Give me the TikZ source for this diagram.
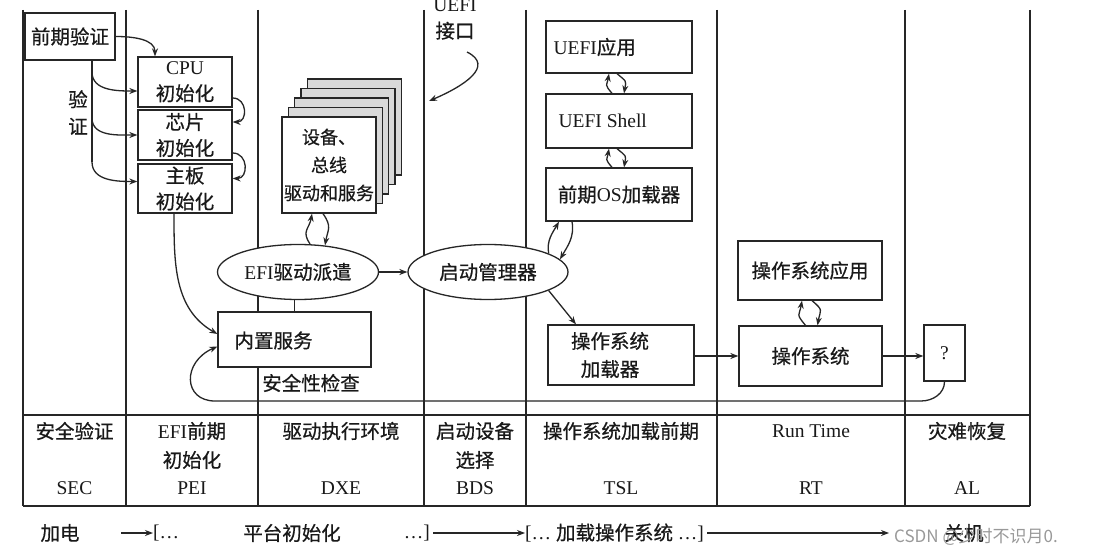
\documentclass[tikz,border=0pt]{standalone}
\usepackage{fontspec}
\setmainfont{Liberation Serif}
\newfontfamily\cjk{Noto Sans CJK SC}[FakeBold=0.6]
\newfontfamily\wmfont{Noto Sans CJK SC}
\newcommand\zh[1]{{\cjk #1}}
\usetikzlibrary{arrows.meta,shapes.geometric}
\begin{document}
\begin{tikzpicture}[x=1pt,y=1pt,
  every node/.style={inner sep=0pt, font=\fontsize{19.5}{26}\selectfont, text=black!90},
  ln/.style={line width=1.3pt, draw=black!85},
  box/.style={ln, rectangle, align=center, fill=white},
  ell/.style={ln, ellipse, align=center, fill=white},
  arr/.style={ln, -{Stealth[length=8pt,width=6pt]}},
  loopy/.style={arr, looseness=1.6},
  mark3/.style={align=center, font=\fontsize{18}{28}\selectfont}
]
\useasboundingbox (0,0) rectangle (1100,-556);
\clip (0,0) rectangle (1100,-556);
\fill[white] (0,0) rectangle (1100,-556);

% grid
\foreach \x in {23,126,258,424,526,717,905,1030} \draw[ln] (\x,-10) -- (\x,-506);
\draw[ln] (23,-415) -- (1030,-415);
\draw[ln] (23,-506) -- (1030,-506);

% SEC / PEI
\node[box, minimum width=90pt, minimum height=47pt] (pre) at (70,-36.5) {\zh{前期验证}};
\node[box, minimum width=94pt, minimum height=50pt] (cpu) at (185,-82) {CPU\\\zh{初始化}};
\node[box, minimum width=94pt, minimum height=50pt] (chip) at (185,-135) {\zh{芯片}\\\zh{初始化}};
\node[box, minimum width=94pt, minimum height=49pt] (board) at (185,-188.5) {\zh{主板}\\\zh{初始化}};
\node[align=center, font=\fontsize{19.5}{27}\selectfont] (ver) at (78,-112.5) {\zh{验}\\\zh{证}};

\draw[arr] (pre.east) to[out=0,in=90] ([xshift=-30pt]cpu.north);
\coordinate (vtop) at ([xshift=22pt]pre.south);
\coordinate (va) at (92,-72);
\coordinate (vb) at (92,-118);
\coordinate (vc) at (92,-162);
\draw[ln] (vtop) -- (vc);
\draw[arr] (va) to[out=-90,in=180] ([yshift=-9pt]cpu.west);
\draw[arr] (vb) to[out=-90,in=180] (chip.west);
\draw[arr] (vc) to[out=-90,in=180] ([yshift=7pt]board.west);
\draw[loopy] ([yshift=-16pt]cpu.east) to[out=0,in=0] ([yshift=13pt]chip.east);
\draw[loopy] ([yshift=-18pt]chip.east) to[out=0,in=0] ([yshift=10pt]board.east);

% DXE
\foreach \k in {4,3,2,1} \draw[ln, fill=black!15] (282+6.3*\k, -117+9.5*\k) rectangle ++(94,-96);
\node[box, mark3, minimum width=94pt, minimum height=96pt] (dev) at (329,-165) {\zh{设备、}\\\zh{总线}\\\zh{驱动和服务}};
\node[ell, minimum width=161pt, minimum height=55pt] (dxe) at (298,-272) {EFI\zh{驱动派遣}};
\node[ell, minimum width=160pt, minimum height=55pt] (bm) at (488,-272) {\zh{启动管理器}};
\node[box, minimum width=153pt, minimum height=55pt] (bis) at (294.5,-339.5) {};
\node[anchor=west] (bist) at ([xshift=17pt,yshift=-1pt]bis.west) {\zh{内置服务}};
\node (sec) at (311,-383) {\zh{安全性检查}};

\draw[arr] ([xshift=12pt]dxe.north) to[out=125,in=-100,looseness=1.3] ([xshift=-17pt]dev.south);
\draw[arr] ([xshift=-6pt]dev.south) to[out=-55,in=80,looseness=1.3] ([xshift=27pt,yshift=-1.5pt]dxe.north);
\draw[arr] (dxe.east) -- (bm.west);
\draw[ln] (bis.north) -- (bis.north |- dxe.south);
\draw[arr] ([xshift=-11pt]board.south) to[out=-90,in=150] ([yshift=5.5pt]bis.west);

% UEFI interface
\node[align=center, font=\fontsize{19.5}{27}\selectfont] (uefi) at (455,-19) {UEFI\\\zh{接口}};
\coordinate (u0) at (467,-52);
\coordinate (u1) at (429,-101);
\draw[arr] (u0) .. controls (495,-66) and (464,-86) .. (u1);

% TSL
\node[box, minimum width=146pt, minimum height=52pt] (uapp) at (619,-47) {};
\node[anchor=west] (uappt) at ([xshift=8pt]uapp.west) {UEFI\zh{应用}};
\node[box, minimum width=146pt, minimum height=54pt] (ushell) at (619,-121) {};
\node[anchor=west] (ushellt) at ([xshift=13pt]ushell.west) {UEFI Shell};
\node[box, minimum width=146pt, minimum height=53pt] (preos) at (619,-194.5) {\zh{前期}OS\zh{加载器}};
\node[box, minimum width=146pt, minimum height=60pt] (osl) at (621,-355) {};
\node[align=center, font=\fontsize{19.5}{28}\selectfont] (oslt) at (610,-355) {\zh{操作系统}\\\zh{加载器}};

\draw[loopy] ([xshift=-7pt]ushell.north) to[out=130,in=-100] ([xshift=-10pt]uapp.south);
\draw[loopy] ([xshift=-2pt]uapp.south) to[out=-40,in=80] ([xshift=5pt]ushell.north);
\draw[loopy] ([xshift=-7pt]preos.north) to[out=130,in=-100] ([xshift=-10pt]ushell.south);
\draw[loopy] ([xshift=-2pt]ushell.south) to[out=-40,in=80] ([xshift=5pt]preos.north);
\draw[arr] (bm.17) to[out=100,in=-120] ([xshift=-60pt]preos.south);
\draw[arr] ([xshift=-47pt]preos.south) to[out=-80,in=60] (bm.10);
\draw[arr] (bm.-17) -- ([xshift=-45pt]osl.north);

% RT
\node[box, minimum width=144pt, minimum height=59pt] (osapp) at (810,-270.5) {\zh{操作系统应用}};
\node[box, minimum width=143pt, minimum height=60pt] (os) at (810.5,-356) {\zh{操作系统}};
\node[box, minimum width=41pt, minimum height=56pt] (q) at (944.5,-353) {?};
\draw[loopy] ([xshift=-5pt]os.north) to[out=130,in=-100] ([xshift=-8pt]osapp.south);
\draw[loopy] ([xshift=2pt]osapp.south) to[out=-40,in=80] ([xshift=7pt]os.north);
\draw[arr] (osl.east |- os.west) -- (os.west);
\draw[arr] (os.east) -- (os.east -| q.west);

% loop back
\coordinate (lr) at (921,-401);
\coordinate (ll) at (215,-401);
\draw[arr] (q.south) to[out=-90,in=0] (lr) -- (ll) .. controls (183,-401) and (182,-362) .. ([yshift=-7pt]bis.west);

% table headers
\node (h1) at (74.5,-431) {\zh{安全验证}};
\node (h2) at (192,-431) {EFI\zh{前期}};
\node (h2b) at (192,-460) {\zh{初始化}};
\node (h3) at (341,-431) {\zh{驱动执行环境}};
\node (h4) at (475,-431) {\zh{启动设备}};
\node (h4b) at (475,-460) {\zh{选择}};
\node (h5) at (621,-431) {\zh{操作系统加载前期}};
\node (h6) at (811,-431) {Run Time};
\node (h7) at (967,-431) {\zh{灾难恢复}};
\node (c1) at (74.5,-488) {SEC};
\node (c2) at (192,-488) {PEI};
\node (c3) at (341,-488) {DXE};
\node (c4) at (475,-488) {BDS};
\node (c5) at (621,-488) {TSL};
\node (c6) at (811,-488) {RT};
\node (c7) at (967,-488) {AL};

% bottom line
\node (b1) at (60,-533) {\zh{加电}};
\coordinate (b1a) at (121,-533);
\node[anchor=west] (b2) at (153,-533) {[…};
\draw[arr] (b1a) -- (b2.west);
\node (b3) at (292,-533) {\zh{平台初始化}};
\node[anchor=east] (b4) at (430,-533) {…]};
\node[anchor=west] (b5) at (525,-533) {[… \zh{加载操作系统} …]};
\draw[arr] ([xshift=3pt]b4.east) -- (b5.west);
\coordinate (b5a) at (889,-533);
\draw[arr] ([xshift=3pt]b5.east) -- (b5a);
\node (b6) at (964,-533) {\zh{关机}};
\node[anchor=west, text=black!40, font=\wmfont\fontsize{17}{20}\selectfont] (wm) at (894,-537) {CSDN @少时不识月0.};
\end{tikzpicture}
\end{document}
